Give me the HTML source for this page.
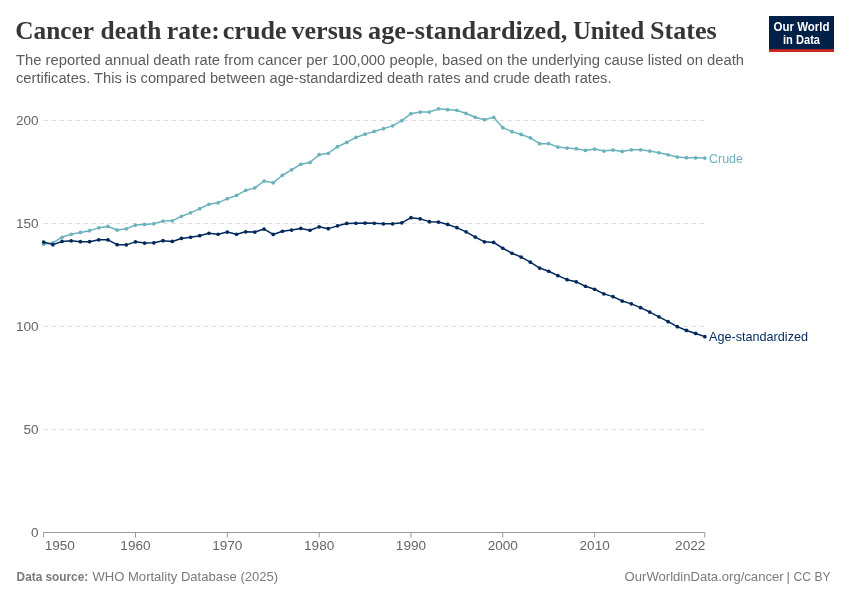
<!DOCTYPE html>
<html lang="en">
<head>
<meta charset="utf-8">
<title>Cancer death rate: crude versus age-standardized, United States</title>
<style>
html,body{margin:0;padding:0;background:#fff;}
body{width:850px;height:600px;overflow:hidden;font-family:"Liberation Sans",sans-serif;}
svg{display:block;}
.title{font-family:"Liberation Serif",serif;font-weight:bold;font-size:26px;fill:#363636;}
.sub{font-family:"Liberation Sans",sans-serif;font-size:14px;fill:#5b5b5b;}
.ax{font-family:"Liberation Sans",sans-serif;font-size:13.6px;fill:#666;}
.lab{font-family:"Liberation Sans",sans-serif;font-size:13px;}
.foot{font-family:"Liberation Sans",sans-serif;font-size:13px;fill:#7a7a7a;}
.logo{font-family:"Liberation Sans",sans-serif;font-weight:bold;font-size:12px;fill:#fff;}
</style>
</head>
<body>
<svg width="850" height="600" viewBox="0 0 850 600">
<rect x="0" y="0" width="850" height="600" fill="#ffffff"/>
<!-- header -->
<text y="39" class="title"><tspan x="15.30" textLength="78.24" lengthAdjust="spacingAndGlyphs">Cancer</tspan> <tspan x="100.57" textLength="60.81" lengthAdjust="spacingAndGlyphs">death</tspan> <tspan x="166.67" textLength="53.12" lengthAdjust="spacingAndGlyphs">rate:</tspan> <tspan x="222.71" textLength="63.88" lengthAdjust="spacingAndGlyphs">crude</tspan> <tspan x="291.42" textLength="71.09" lengthAdjust="spacingAndGlyphs">versus</tspan> <tspan x="368.00" textLength="199.46" lengthAdjust="spacingAndGlyphs">age-standardized,</tspan> <tspan x="573.00" textLength="71.17" lengthAdjust="spacingAndGlyphs">United</tspan> <tspan x="649.96" textLength="66.69" lengthAdjust="spacingAndGlyphs">States</tspan></text>
<text x="16" y="65" class="sub" textLength="728" lengthAdjust="spacingAndGlyphs">The reported annual death rate from cancer per 100,000 people, based on the underlying cause listed on death</text>
<text x="16" y="83" class="sub" textLength="595.5" lengthAdjust="spacingAndGlyphs">certificates. This is compared between age-standardized death rates and crude death rates.</text>
<!-- logo -->
<g>
<rect x="769" y="16" width="65" height="36" fill="#002147"/>
<rect x="769" y="49.2" width="65" height="2.8" fill="#ce261e"/>
<text x="801.5" y="31" text-anchor="middle" class="logo" textLength="56" lengthAdjust="spacingAndGlyphs">Our World</text>
<text x="801.5" y="43.5" text-anchor="middle" class="logo" textLength="37" lengthAdjust="spacingAndGlyphs">in Data</text>
</g>
<!-- grid -->
<line x1="43.8" x2="704.5" y1="120.5" y2="120.5" stroke="#dddddd" stroke-width="1" stroke-dasharray="4,4"/>
<line x1="43.8" x2="704.5" y1="223.5" y2="223.5" stroke="#dddddd" stroke-width="1" stroke-dasharray="4,4"/>
<line x1="43.8" x2="704.5" y1="326.5" y2="326.5" stroke="#dddddd" stroke-width="1" stroke-dasharray="4,4"/>
<line x1="43.8" x2="704.5" y1="429.5" y2="429.5" stroke="#dddddd" stroke-width="1" stroke-dasharray="4,4"/>

<line x1="43.5" x2="705" y1="532.5" y2="532.5" stroke="#999" stroke-width="1"/>
<line x1="43.65" x2="43.65" y1="532.5" y2="537.5" stroke="#999" stroke-width="1"/>
<line x1="135.48" x2="135.48" y1="532.5" y2="537.5" stroke="#999" stroke-width="1"/>
<line x1="227.32" x2="227.32" y1="532.5" y2="537.5" stroke="#999" stroke-width="1"/>
<line x1="319.15" x2="319.15" y1="532.5" y2="537.5" stroke="#999" stroke-width="1"/>
<line x1="410.98" x2="410.98" y1="532.5" y2="537.5" stroke="#999" stroke-width="1"/>
<line x1="502.81" x2="502.81" y1="532.5" y2="537.5" stroke="#999" stroke-width="1"/>
<line x1="594.65" x2="594.65" y1="532.5" y2="537.5" stroke="#999" stroke-width="1"/>
<line x1="704.85" x2="704.85" y1="532.5" y2="537.5" stroke="#999" stroke-width="1"/>

<text x="38.6" y="124.5" text-anchor="end" class="ax">200</text>
<text x="38.6" y="227.5" text-anchor="end" class="ax">150</text>
<text x="38.6" y="330.5" text-anchor="end" class="ax">100</text>
<text x="38.6" y="433.5" text-anchor="end" class="ax">50</text>
<text x="38.6" y="536.5" text-anchor="end" class="ax">0</text>

<text x="44.65" y="550.3" text-anchor="start" class="ax">1950</text>
<text x="135.48" y="550.3" text-anchor="middle" class="ax">1960</text>
<text x="227.32" y="550.3" text-anchor="middle" class="ax">1970</text>
<text x="319.15" y="550.3" text-anchor="middle" class="ax">1980</text>
<text x="410.98" y="550.3" text-anchor="middle" class="ax">1990</text>
<text x="502.81" y="550.3" text-anchor="middle" class="ax">2000</text>
<text x="594.65" y="550.3" text-anchor="middle" class="ax">2010</text>
<text x="705.35" y="550.3" text-anchor="end" class="ax">2022</text>

<!-- series -->
<polyline points="43.65,244.25 52.83,242.85 62.02,237.25 71.20,234.25 80.38,232.45 89.57,230.65 98.75,227.85 107.93,226.45 117.12,230.05 126.30,228.85 135.48,225.05 144.67,224.45 153.85,223.65 163.03,221.05 172.22,220.85 181.40,216.25 190.58,212.85 199.77,208.65 208.95,204.25 218.13,202.85 227.32,198.65 236.50,195.45 245.68,190.45 254.87,187.85 264.05,181.05 273.23,182.85 282.42,175.25 291.60,169.85 300.78,164.25 309.97,162.45 319.15,154.65 328.33,153.25 337.52,146.65 346.70,142.45 355.88,137.45 365.07,134.15 374.25,131.45 383.43,128.65 392.62,125.85 401.80,120.65 410.98,113.65 420.17,112.05 429.35,112.05 438.53,108.85 447.72,109.65 456.90,110.25 466.08,113.45 475.27,117.25 484.45,119.65 493.63,117.25 502.81,127.65 512.00,131.65 521.18,134.45 530.36,137.85 539.55,143.65 548.73,143.65 557.91,147.05 567.10,148.05 576.28,148.65 585.46,150.45 594.65,149.05 603.83,151.05 613.01,150.05 622.20,151.45 631.38,149.85 640.56,149.85 649.75,151.05 658.93,152.75 668.11,154.85 677.30,157.05 686.48,157.65 695.66,157.85 704.85,158.05" fill="none" stroke="#6cb2bd" stroke-width="1.5" stroke-linejoin="round" stroke-linecap="butt"/>
<g fill="#6cb2bd"><circle cx="43.65" cy="244.25" r="1.85"/><circle cx="52.83" cy="242.85" r="1.85"/><circle cx="62.02" cy="237.25" r="1.85"/><circle cx="71.20" cy="234.25" r="1.85"/><circle cx="80.38" cy="232.45" r="1.85"/><circle cx="89.57" cy="230.65" r="1.85"/><circle cx="98.75" cy="227.85" r="1.85"/><circle cx="107.93" cy="226.45" r="1.85"/><circle cx="117.12" cy="230.05" r="1.85"/><circle cx="126.30" cy="228.85" r="1.85"/><circle cx="135.48" cy="225.05" r="1.85"/><circle cx="144.67" cy="224.45" r="1.85"/><circle cx="153.85" cy="223.65" r="1.85"/><circle cx="163.03" cy="221.05" r="1.85"/><circle cx="172.22" cy="220.85" r="1.85"/><circle cx="181.40" cy="216.25" r="1.85"/><circle cx="190.58" cy="212.85" r="1.85"/><circle cx="199.77" cy="208.65" r="1.85"/><circle cx="208.95" cy="204.25" r="1.85"/><circle cx="218.13" cy="202.85" r="1.85"/><circle cx="227.32" cy="198.65" r="1.85"/><circle cx="236.50" cy="195.45" r="1.85"/><circle cx="245.68" cy="190.45" r="1.85"/><circle cx="254.87" cy="187.85" r="1.85"/><circle cx="264.05" cy="181.05" r="1.85"/><circle cx="273.23" cy="182.85" r="1.85"/><circle cx="282.42" cy="175.25" r="1.85"/><circle cx="291.60" cy="169.85" r="1.85"/><circle cx="300.78" cy="164.25" r="1.85"/><circle cx="309.97" cy="162.45" r="1.85"/><circle cx="319.15" cy="154.65" r="1.85"/><circle cx="328.33" cy="153.25" r="1.85"/><circle cx="337.52" cy="146.65" r="1.85"/><circle cx="346.70" cy="142.45" r="1.85"/><circle cx="355.88" cy="137.45" r="1.85"/><circle cx="365.07" cy="134.15" r="1.85"/><circle cx="374.25" cy="131.45" r="1.85"/><circle cx="383.43" cy="128.65" r="1.85"/><circle cx="392.62" cy="125.85" r="1.85"/><circle cx="401.80" cy="120.65" r="1.85"/><circle cx="410.98" cy="113.65" r="1.85"/><circle cx="420.17" cy="112.05" r="1.85"/><circle cx="429.35" cy="112.05" r="1.85"/><circle cx="438.53" cy="108.85" r="1.85"/><circle cx="447.72" cy="109.65" r="1.85"/><circle cx="456.90" cy="110.25" r="1.85"/><circle cx="466.08" cy="113.45" r="1.85"/><circle cx="475.27" cy="117.25" r="1.85"/><circle cx="484.45" cy="119.65" r="1.85"/><circle cx="493.63" cy="117.25" r="1.85"/><circle cx="502.81" cy="127.65" r="1.85"/><circle cx="512.00" cy="131.65" r="1.85"/><circle cx="521.18" cy="134.45" r="1.85"/><circle cx="530.36" cy="137.85" r="1.85"/><circle cx="539.55" cy="143.65" r="1.85"/><circle cx="548.73" cy="143.65" r="1.85"/><circle cx="557.91" cy="147.05" r="1.85"/><circle cx="567.10" cy="148.05" r="1.85"/><circle cx="576.28" cy="148.65" r="1.85"/><circle cx="585.46" cy="150.45" r="1.85"/><circle cx="594.65" cy="149.05" r="1.85"/><circle cx="603.83" cy="151.05" r="1.85"/><circle cx="613.01" cy="150.05" r="1.85"/><circle cx="622.20" cy="151.45" r="1.85"/><circle cx="631.38" cy="149.85" r="1.85"/><circle cx="640.56" cy="149.85" r="1.85"/><circle cx="649.75" cy="151.05" r="1.85"/><circle cx="658.93" cy="152.75" r="1.85"/><circle cx="668.11" cy="154.85" r="1.85"/><circle cx="677.30" cy="157.05" r="1.85"/><circle cx="686.48" cy="157.65" r="1.85"/><circle cx="695.66" cy="157.85" r="1.85"/><circle cx="704.85" cy="158.05" r="1.85"/></g>

<polyline points="43.65,242.05 52.83,244.65 62.02,241.45 71.20,240.85 80.38,241.65 89.57,241.65 98.75,239.85 107.93,239.85 117.12,244.65 126.30,244.85 135.48,241.85 144.67,243.05 153.85,242.85 163.03,240.65 172.22,241.45 181.40,238.45 190.58,237.25 199.77,235.65 208.95,233.25 218.13,234.25 227.32,232.05 236.50,234.25 245.68,231.85 254.87,232.05 264.05,229.05 273.23,234.45 282.42,231.25 291.60,230.05 300.78,228.45 309.97,230.25 319.15,226.85 328.33,228.65 337.52,225.85 346.70,223.45 355.88,223.25 365.07,223.05 374.25,223.25 383.43,223.85 392.62,223.85 401.80,222.85 410.98,217.65 420.17,218.85 429.35,221.65 438.53,222.05 447.72,224.45 456.90,227.65 466.08,231.85 475.27,237.05 484.45,241.85 493.63,242.45 502.81,248.25 512.00,253.25 521.18,257.05 530.36,262.15 539.55,268.05 548.73,271.25 557.91,275.65 567.10,279.65 576.28,281.85 585.46,286.25 594.65,289.25 603.83,293.85 613.01,296.65 622.20,301.05 631.38,303.85 640.56,307.65 649.75,312.05 658.93,316.85 668.11,321.65 677.30,326.65 686.48,330.45 695.66,333.45 704.85,336.65" fill="none" stroke="#00295b" stroke-width="1.5" stroke-linejoin="round" stroke-linecap="butt"/>
<g fill="#00295b"><circle cx="43.65" cy="242.05" r="1.85"/><circle cx="52.83" cy="244.65" r="1.85"/><circle cx="62.02" cy="241.45" r="1.85"/><circle cx="71.20" cy="240.85" r="1.85"/><circle cx="80.38" cy="241.65" r="1.85"/><circle cx="89.57" cy="241.65" r="1.85"/><circle cx="98.75" cy="239.85" r="1.85"/><circle cx="107.93" cy="239.85" r="1.85"/><circle cx="117.12" cy="244.65" r="1.85"/><circle cx="126.30" cy="244.85" r="1.85"/><circle cx="135.48" cy="241.85" r="1.85"/><circle cx="144.67" cy="243.05" r="1.85"/><circle cx="153.85" cy="242.85" r="1.85"/><circle cx="163.03" cy="240.65" r="1.85"/><circle cx="172.22" cy="241.45" r="1.85"/><circle cx="181.40" cy="238.45" r="1.85"/><circle cx="190.58" cy="237.25" r="1.85"/><circle cx="199.77" cy="235.65" r="1.85"/><circle cx="208.95" cy="233.25" r="1.85"/><circle cx="218.13" cy="234.25" r="1.85"/><circle cx="227.32" cy="232.05" r="1.85"/><circle cx="236.50" cy="234.25" r="1.85"/><circle cx="245.68" cy="231.85" r="1.85"/><circle cx="254.87" cy="232.05" r="1.85"/><circle cx="264.05" cy="229.05" r="1.85"/><circle cx="273.23" cy="234.45" r="1.85"/><circle cx="282.42" cy="231.25" r="1.85"/><circle cx="291.60" cy="230.05" r="1.85"/><circle cx="300.78" cy="228.45" r="1.85"/><circle cx="309.97" cy="230.25" r="1.85"/><circle cx="319.15" cy="226.85" r="1.85"/><circle cx="328.33" cy="228.65" r="1.85"/><circle cx="337.52" cy="225.85" r="1.85"/><circle cx="346.70" cy="223.45" r="1.85"/><circle cx="355.88" cy="223.25" r="1.85"/><circle cx="365.07" cy="223.05" r="1.85"/><circle cx="374.25" cy="223.25" r="1.85"/><circle cx="383.43" cy="223.85" r="1.85"/><circle cx="392.62" cy="223.85" r="1.85"/><circle cx="401.80" cy="222.85" r="1.85"/><circle cx="410.98" cy="217.65" r="1.85"/><circle cx="420.17" cy="218.85" r="1.85"/><circle cx="429.35" cy="221.65" r="1.85"/><circle cx="438.53" cy="222.05" r="1.85"/><circle cx="447.72" cy="224.45" r="1.85"/><circle cx="456.90" cy="227.65" r="1.85"/><circle cx="466.08" cy="231.85" r="1.85"/><circle cx="475.27" cy="237.05" r="1.85"/><circle cx="484.45" cy="241.85" r="1.85"/><circle cx="493.63" cy="242.45" r="1.85"/><circle cx="502.81" cy="248.25" r="1.85"/><circle cx="512.00" cy="253.25" r="1.85"/><circle cx="521.18" cy="257.05" r="1.85"/><circle cx="530.36" cy="262.15" r="1.85"/><circle cx="539.55" cy="268.05" r="1.85"/><circle cx="548.73" cy="271.25" r="1.85"/><circle cx="557.91" cy="275.65" r="1.85"/><circle cx="567.10" cy="279.65" r="1.85"/><circle cx="576.28" cy="281.85" r="1.85"/><circle cx="585.46" cy="286.25" r="1.85"/><circle cx="594.65" cy="289.25" r="1.85"/><circle cx="603.83" cy="293.85" r="1.85"/><circle cx="613.01" cy="296.65" r="1.85"/><circle cx="622.20" cy="301.05" r="1.85"/><circle cx="631.38" cy="303.85" r="1.85"/><circle cx="640.56" cy="307.65" r="1.85"/><circle cx="649.75" cy="312.05" r="1.85"/><circle cx="658.93" cy="316.85" r="1.85"/><circle cx="668.11" cy="321.65" r="1.85"/><circle cx="677.30" cy="326.65" r="1.85"/><circle cx="686.48" cy="330.45" r="1.85"/><circle cx="695.66" cy="333.45" r="1.85"/><circle cx="704.85" cy="336.65" r="1.85"/></g>

<text x="709" y="162.8" class="lab" fill="#6cb2bd" textLength="34" lengthAdjust="spacingAndGlyphs">Crude</text>
<text x="709" y="341" class="lab" fill="#00295b" textLength="99" lengthAdjust="spacingAndGlyphs">Age-standardized</text>
<!-- footer -->
<text x="16.6" y="580.7" class="foot" font-weight="bold" textLength="71.6" lengthAdjust="spacingAndGlyphs">Data source:</text>
<text x="92.5" y="580.7" class="foot" textLength="185.6" lengthAdjust="spacingAndGlyphs">WHO Mortality Database (2025)</text>
<text y="580.7" class="foot"><tspan x="624.6" textLength="159" lengthAdjust="spacingAndGlyphs">OurWorldinData.org/cancer</tspan> <tspan x="786.6">|</tspan> <tspan x="793.6" textLength="37" lengthAdjust="spacingAndGlyphs">CC BY</tspan></text>
</svg>
</body>
</html>
